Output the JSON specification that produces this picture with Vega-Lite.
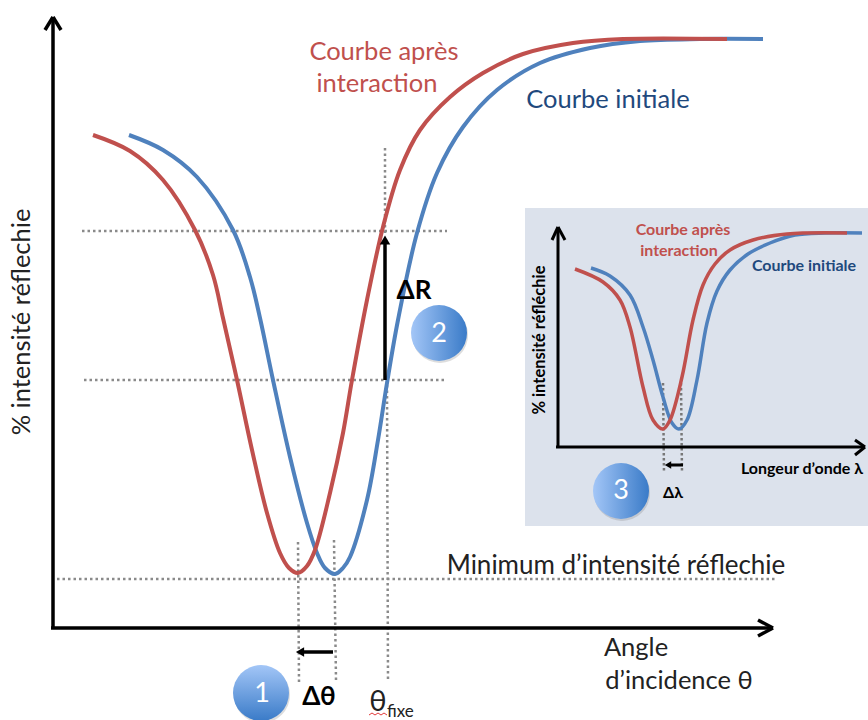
{
"$schema":"https://vega.github.io/schema/vega-lite/v6.json",
"width":868,"height":720,"padding":0,"autosize":{"type":"none"},
"background":"white","config":{"view":{"stroke":null}},
"encoding":{
"x":{"field":"x","type":"quantitative","scale":{"domain":[0,868],"nice":false,"zero":false},"axis":null},
"y":{"field":"y","type":"quantitative","scale":{"domain":[720,0],"nice":false,"zero":false},"axis":null}},
"layer":[
{"data":{"values":[{"x":525,"x2":868,"y":208,"y2":526}]},"mark":{"type":"rect","fill":"#dce2ec"},"encoding":{"x2":{"field":"x2"},"y2":{"field":"y2"}}},
{"data":{"values":[
{"x":82,"x2":447,"y":231,"y2":231},{"x":84,"x2":447,"y":380,"y2":380},{"x":57,"x2":775,"y":579,"y2":579},
{"x":385,"x2":385,"y":148,"y2":233},{"x":387,"x2":388,"y":385,"y2":682},{"x":298,"x2":299,"y":542,"y2":682},{"x":334,"x2":336,"y":540,"y2":680}]},
"mark":{"type":"rule","stroke":"#8a8a8a","strokeWidth":2.5,"strokeDash":[2.5,3]},"encoding":{"x2":{"field":"x2"},"y2":{"field":"y2"}}},
{"data":{"values":[
{"x":663,"x2":664,"y":383,"y2":473},{"x":681,"x2":682,"y":383,"y2":473}]},
"mark":{"type":"rule","stroke":"#777777","strokeWidth":2.5,"strokeDash":[2.5,2.5]},"encoding":{"x2":{"field":"x2"},"y2":{"field":"y2"}}},
{"data":{"values":[
{"curve":"initiale","x":129,"y":135},{"curve":"initiale","x":163,"y":150},{"curve":"initiale","x":197,"y":177},{"curve":"initiale","x":233,"y":230},{"curve":"initiale","x":250,"y":277},{"curve":"initiale","x":260,"y":318},{"curve":"initiale","x":273,"y":380},{"curve":"initiale","x":290,"y":457},{"curve":"initiale","x":307,"y":523},{"curve":"initiale","x":317,"y":553},{"curve":"initiale","x":325,"y":568},{"curve":"initiale","x":335,"y":574},{"curve":"initiale","x":343,"y":568},{"curve":"initiale","x":350,"y":557},{"curve":"initiale","x":367,"y":500},{"curve":"initiale","x":378,"y":440},{"curve":"initiale","x":387,"y":383},{"curve":"initiale","x":398,"y":320},{"curve":"initiale","x":417,"y":233},{"curve":"initiale","x":437,"y":173},{"curve":"initiale","x":463,"y":127},{"curve":"initiale","x":497,"y":90},{"curve":"initiale","x":540,"y":63},{"curve":"initiale","x":590,"y":48},{"curve":"initiale","x":640,"y":41},{"curve":"initiale","x":700,"y":39},{"curve":"initiale","x":763,"y":39},
{"curve":"apres","x":93,"y":135},{"curve":"apres","x":130,"y":151},{"curve":"apres","x":163,"y":180},{"curve":"apres","x":195,"y":230},{"curve":"apres","x":213,"y":275},{"curve":"apres","x":223,"y":318},{"curve":"apres","x":237,"y":380},{"curve":"apres","x":252,"y":450},{"curve":"apres","x":267,"y":513},{"curve":"apres","x":280,"y":553},{"curve":"apres","x":289,"y":568},{"curve":"apres","x":298,"y":573},{"curve":"apres","x":307,"y":566},{"curve":"apres","x":315,"y":550},{"curve":"apres","x":330,"y":493},{"curve":"apres","x":343,"y":433},{"curve":"apres","x":352,"y":380},{"curve":"apres","x":367,"y":300},{"curve":"apres","x":383,"y":227},{"curve":"apres","x":400,"y":170},{"curve":"apres","x":420,"y":130},{"curve":"apres","x":450,"y":97},{"curve":"apres","x":483,"y":73},{"curve":"apres","x":523,"y":54},{"curve":"apres","x":573,"y":43},{"curve":"apres","x":623,"y":39},{"curve":"apres","x":727,"y":39}]},
"mark":{"type":"line","interpolate":"catmull-rom","strokeWidth":4},
"encoding":{"color":{"field":"curve","type":"nominal","scale":{"domain":["initiale","apres"],"range":["#4f81bd","#c0504d"]},"legend":null},"order":{"field":"x"}}},
{"data":{"values":[
{"curve":"initiale i","x":591,"y":268},{"curve":"initiale i","x":610,"y":276},{"curve":"initiale i","x":630,"y":295},{"curve":"initiale i","x":643,"y":327},{"curve":"initiale i","x":653,"y":360},{"curve":"initiale i","x":663,"y":397},{"curve":"initiale i","x":672,"y":423},{"curve":"initiale i","x":679,"y":429},{"curve":"initiale i","x":687,"y":420},{"curve":"initiale i","x":697,"y":380},{"curve":"initiale i","x":707,"y":323},{"curve":"initiale i","x":717,"y":291},{"curve":"initiale i","x":730,"y":270},{"curve":"initiale i","x":748,"y":254},{"curve":"initiale i","x":770,"y":243},{"curve":"initiale i","x":795,"y":235},{"curve":"initiale i","x":825,"y":233},{"curve":"initiale i","x":862,"y":233},
{"curve":"apres i","x":575,"y":269},{"curve":"apres i","x":603,"y":282},{"curve":"apres i","x":620,"y":300},{"curve":"apres i","x":630,"y":327},{"curve":"apres i","x":643,"y":387},{"curve":"apres i","x":653,"y":420},{"curve":"apres i","x":663,"y":429},{"curve":"apres i","x":670,"y":420},{"curve":"apres i","x":682,"y":377},{"curve":"apres i","x":693,"y":320},{"curve":"apres i","x":703,"y":285},{"curve":"apres i","x":715,"y":264},{"curve":"apres i","x":730,"y":250},{"curve":"apres i","x":753,"y":240},{"curve":"apres i","x":787,"y":234},{"curve":"apres i","x":847,"y":233}]},
"mark":{"type":"line","interpolate":"catmull-rom","strokeWidth":3.5},
"encoding":{"stroke":{"field":"curve","type":"nominal","scale":{"domain":["initiale i","apres i"],"range":["#4f81bd","#c0504d"]},"legend":null},"order":{"field":"x"}}},
{"data":{"values":[
{"x":53,"x2":53,"y":628,"y2":18},{"x":51,"x2":772,"y":628,"y2":628},
{"x":45,"x2":53,"y":30,"y2":17},{"x":61,"x2":53,"y":30,"y2":17},
{"x":758,"x2":773,"y":620,"y2":628},{"x":758,"x2":773,"y":636,"y2":628},
{"x":385,"x2":385,"y":380,"y2":240},{"x":333,"x2":300,"y":652,"y2":652}]},
"mark":{"type":"rule","stroke":"black","strokeWidth":3.5},"encoding":{"x2":{"field":"x2"},"y2":{"field":"y2"}}},
{"data":{"values":[
{"x":558,"x2":558,"y":447,"y2":228},{"x":556,"x2":864,"y":447,"y2":447},
{"x":552,"x2":558,"y":240,"y2":227},{"x":565,"x2":558,"y":240,"y2":227},
{"x":855,"x2":865,"y":440,"y2":447},{"x":855,"x2":865,"y":455,"y2":447},
{"x":683,"x2":668,"y":465,"y2":465}]},
"mark":{"type":"rule","stroke":"black","strokeWidth":3},"encoding":{"x2":{"field":"x2"},"y2":{"field":"y2"}}},
{"data":{"values":[{"x":385,"y":240}]},"mark":{"type":"point","shape":"triangle-up","filled":true,"fill":"black","stroke":null,"size":110,"opacity":1}},
{"data":{"values":[{"x":300,"y":652}]},"mark":{"type":"point","shape":"triangle-left","filled":true,"fill":"black","stroke":null,"size":90,"opacity":1}},
{"data":{"values":[{"x":668,"y":465}]},"mark":{"type":"point","shape":"triangle-left","filled":true,"fill":"black","stroke":null,"size":55,"opacity":1}},
{"data":{"values":[{"x":369,"y":715},{"x":372,"y":713},{"x":375,"y":715},{"x":378,"y":713},{"x":381,"y":715},{"x":384,"y":713},{"x":387,"y":715}]},"mark":{"type":"line","stroke":"#e23b3b","strokeWidth":1}},
{"data":{"values":[{"x":262,"y":695},{"x":440,"y":335},{"x":622,"y":493}]},"mark":{"type":"point","shape":"circle","filled":true,"fill":"#777777","stroke":null,"size":3136,"opacity":0.25}},
{"data":{"values":[{"x":261,"y":693}]},"mark":{"type":"point","shape":"circle","filled":true,"stroke":null,"size":3136,"opacity":1,"fill":{"gradient":"linear","x1":0,"y1":0,"x2":0,"y2":1,"stops":[{"offset":0,"color":"#a3c6f7"},{"offset":1,"color":"#3a7bc8"}]}}},
{"data":{"values":[{"x":439,"y":333},{"x":621,"y":491}]},"mark":{"type":"point","shape":"circle","filled":true,"stroke":null,"size":3136,"opacity":1,"fill":{"gradient":"linear","x1":0,"y1":0,"x2":1,"y2":0,"stops":[{"offset":0,"color":"#a3c6f7"},{"offset":1,"color":"#3a7bc8"}]}}},
{"data":{"values":[{"x":262,"y":694,"t":"1"},{"x":439,"y":334,"t":"2"},{"x":621,"y":491,"t":"3"}]},"mark":{"type":"text","font":"Lato","fontSize":27,"fill":"white","align":"center","baseline":"middle"},"encoding":{"text":{"field":"t"}}},
{"data":{"values":[{"x":384,"y":52,"t":"Courbe après"},{"x":377,"y":84,"t":"interaction"}]},"mark":{"type":"text","font":"Lato","fontSize":25.5,"fill":"#c0504d","align":"center","baseline":"middle"},"encoding":{"text":{"field":"t"}}},
{"data":{"values":[{"x":608,"y":100,"t":"Courbe initiale"}]},"mark":{"type":"text","font":"Lato","fontSize":25.5,"fill":"#1f497d","align":"center","baseline":"middle"},"encoding":{"text":{"field":"t"}}},
{"data":{"values":[{"x":616,"y":566,"t":"Minimum d’intensité réflechie"}]},"mark":{"type":"text","font":"Lato","fontSize":26,"fill":"#222222","align":"center","baseline":"middle"},"encoding":{"text":{"field":"t"}}},
{"data":{"values":[{"x":636,"y":648,"t":"Angle"},{"x":679,"y":681,"t":"d’incidence θ"}]},"mark":{"type":"text","font":"Lato","fontSize":25.5,"fill":"#222222","align":"center","baseline":"middle"},"encoding":{"text":{"field":"t"}}},
{"data":{"values":[{"x":22,"y":322,"t":"% intensité réflechie"}]},"mark":{"type":"text","font":"Lato","fontSize":25.5,"fill":"#222222","align":"center","baseline":"middle","angle":270},"encoding":{"text":{"field":"t"}}},
{"data":{"values":[{"x":414,"y":291,"t":"ΔR"},{"x":319,"y":697,"t":"Δθ"}]},"mark":{"type":"text","font":"Lato","fontSize":26,"fontWeight":"bold","fill":"black","align":"center","baseline":"middle"},"encoding":{"text":{"field":"t"}}},
{"data":{"values":[{"x":378,"y":702,"t":"θ"}]},"mark":{"type":"text","font":"Lato","fontSize":29,"fill":"#222222","align":"center","baseline":"middle"},"encoding":{"text":{"field":"t"}}},
{"data":{"values":[{"x":387,"y":712,"t":"fixe"}]},"mark":{"type":"text","font":"Lato","fontSize":17,"fill":"#222222","align":"left","baseline":"middle"},"encoding":{"text":{"field":"t"}}},
{"data":{"values":[{"x":683,"y":230,"t":"Courbe après"},{"x":679,"y":251,"t":"interaction"}]},"mark":{"type":"text","font":"Lato","fontSize":16,"fontWeight":"bold","fill":"#c0504d","align":"center","baseline":"middle"},"encoding":{"text":{"field":"t"}}},
{"data":{"values":[{"x":804,"y":266,"t":"Courbe initiale"}]},"mark":{"type":"text","font":"Lato","fontSize":16,"fontWeight":"bold","fill":"#1f497d","align":"center","baseline":"middle"},"encoding":{"text":{"field":"t"}}},
{"data":{"values":[{"x":802,"y":469,"t":"Longeur d’onde λ"},{"x":673,"y":493,"t":"Δλ"}]},"mark":{"type":"text","font":"Lato","fontSize":16,"fontWeight":"bold","fill":"black","align":"center","baseline":"middle"},"encoding":{"text":{"field":"t"}}},
{"data":{"values":[{"x":540,"y":340,"t":"% intensité réfléchie"}]},"mark":{"type":"text","font":"Lato","fontSize":16.5,"fontWeight":"bold","fill":"black","align":"center","baseline":"middle","angle":270},"encoding":{"text":{"field":"t"}}}
]}
